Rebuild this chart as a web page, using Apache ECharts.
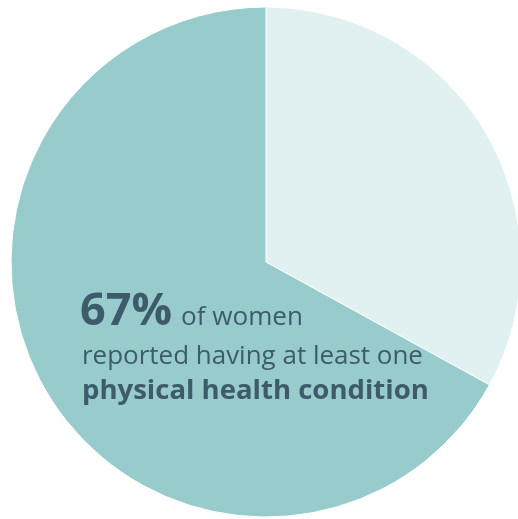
<!DOCTYPE html>
<html><head><meta charset="utf-8">
<script src="https://cdn.jsdelivr.net/npm/echarts@6/dist/echarts.min.js"></script>
<style>html,body{margin:0;padding:0;background:#fff}#c{width:518px;height:519px}</style>
</head><body><div id="c"></div>
<script>
const categories = ['Without a physical health condition', 'With at least one physical health condition'];
const values = [33, 67];
const colors = ['#E1F0F0', '#98CBCC'];
const headline = '67%';
const line1 = 'of women';
const line2 = 'reported having at least one';
const line3 = 'physical health condition';

const txt = '#3E5B6B';
const font = '"Open Sans", Lato, sans-serif';
const cv = document.createElement('canvas').getContext('2d');
function fit(text, weight, target) {
  cv.font = weight + ' 100px ' + font;
  return 100 * target / cv.measureText(text).width;
}
const sHead = fit(headline, 'bold', 92);
const s1 = fit(line1, 'normal', 122);
const s2 = fit(line2, 'normal', 341);
const s3 = fit(line3, 'bold', 347);

const chart = echarts.init(document.getElementById('c'), null, {renderer: 'canvas'});
chart.setOption({
  animation: false,
  series: [{
    type: 'pie',
    center: [266, 262],
    radius: 255,
    startAngle: 90,
    clockwise: true,
    label: {show: false},
    labelLine: {show: false},
    itemStyle: {borderColor: '#fff', borderWidth: 1},
    emphasis: {disabled: true},
    data: categories.map((c, i) => ({name: c, value: values[i], itemStyle: {color: colors[i]}}))
  }],
  graphic: [
    {type: 'text', z: 100, x: 80, y: 335, style: {text: headline, fontFamily: font, fontSize: sHead, fontWeight: 'bold', fill: txt, verticalAlign: 'bottom'}},
    {type: 'text', z: 100, x: 181, y: 331, style: {text: line1, fontFamily: font, fontSize: s1, fill: txt, verticalAlign: 'bottom'}},
    {type: 'text', z: 100, x: 82, y: 370, style: {text: line2, fontFamily: font, fontSize: s2, fill: txt, verticalAlign: 'bottom'}},
    {type: 'text', z: 100, x: 82, y: 405, style: {text: line3, fontFamily: font, fontSize: s3, fontWeight: 'bold', fill: txt, verticalAlign: 'bottom'}}
  ]
});
</script></body></html>
